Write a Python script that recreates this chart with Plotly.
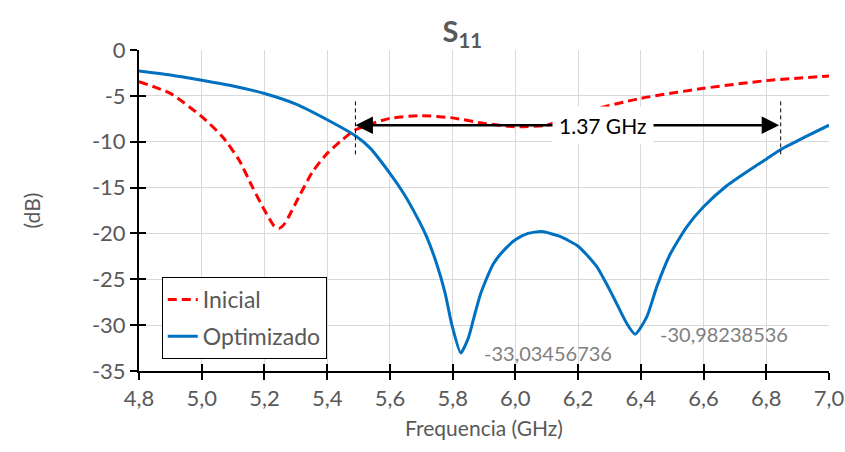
import plotly.graph_objects as go

# Inicial (red dashed)
freq_ini = [4.80, 4.90, 5.00, 5.066, 5.119, 5.161, 5.20, 5.231, 5.246, 5.265, 5.31, 5.353, 5.40, 5.448, 5.49,
            5.60, 5.70, 5.80, 5.90, 6.00, 6.10, 6.16, 6.225, 6.40, 6.60, 6.80, 7.00]
s11_ini = [-3.45, -4.73, -7.27, -9.45, -12.0, -14.9, -17.45, -19.2, -19.45, -18.9, -16.0, -13.3, -11.27, -9.8, -8.7,
           -7.45, -7.16, -7.4, -8.0, -8.36, -8.2, -7.5, -6.7, -5.27, -4.18, -3.34, -2.84]

# Optimizado (blue solid)
freq_opt = [4.80, 4.90, 5.00, 5.10, 5.20, 5.30, 5.40, 5.49, 5.537, 5.60, 5.643, 5.686, 5.717, 5.749, 5.776,
            5.797, 5.826, 5.85, 5.866, 5.89, 5.93, 5.97, 6.00, 6.04, 6.084, 6.14, 6.20, 6.259, 6.312,
            6.355, 6.382, 6.419, 6.451, 6.493, 6.546, 6.60, 6.674, 6.759, 6.80, 6.849, 6.929, 7.00]
s11_opt = [-2.29, -2.73, -3.3, -3.93, -4.75, -5.9, -7.6, -9.35, -10.7, -13.45, -15.6, -18.2, -20.35, -23.3, -26.5,
           -29.9, -33.03, -31.4, -29.4, -26.5, -23.3, -21.6, -20.7, -20.0, -19.8, -20.3, -21.4, -23.6, -26.9,
           -29.8, -30.98, -29.1, -25.8, -22.3, -19.3, -17.1, -14.8, -12.8, -11.9, -10.8, -9.4, -8.2]

min_labels = ["-33,03456736", "-30,98238536"]
min_pos = [(5.826, -33.03), (6.382, -30.98)]

bw_start, bw_end, bw_level = 5.49, 6.846, -8.2
bw_label = "1.37 GHz"
bw_label_x = 6.28

xticks = [4.8, 5.0, 5.2, 5.4, 5.6, 5.8, 6.0, 6.2, 6.4, 6.6, 6.8, 7.0]
xtick_text = ["4,8", "5,0", "5,2", "5,4", "5,6", "5,8", "6,0", "6,2", "6,4", "6,6", "6,8", "7,0"]
yticks = [0, -5, -10, -15, -20, -25, -30, -35]
ytick_text = ["0", "-5", "-10", "-15", "-20", "-25", "-30", "-35"]

GRAY = "#595959"
FONT = "Lato, sans-serif"

fig = go.Figure()
fig.add_trace(go.Scatter(x=freq_ini, y=s11_ini, mode="lines", name="Inicial", legendgroup="a",
                         line=dict(color="#FF0000", width=3, dash="9px,5px", shape="spline", smoothing=0.6)))
fig.add_trace(go.Scatter(x=freq_opt, y=s11_opt, mode="lines", name="Optimizado", legendgroup="b",
                         line=dict(color="#0070C0", width=3, shape="spline", smoothing=0.6)))
# invisible trace for overlay axes (crossing ticks)
fig.add_trace(go.Scatter(x=[4.8], y=[-35], xaxis="x2", yaxis="y2", mode="markers",
                         marker=dict(opacity=0), showlegend=False, hoverinfo="skip"))

fig.update_layout(
    width=845, height=452,
    margin=dict(l=139, r=16, t=50, b=81),
    paper_bgcolor="white", plot_bgcolor="white",
    title=dict(text="<b>S<sub>11</sub></b>", x=0.547, xanchor="center", y=0.93, yanchor="middle",
               font=dict(family=FONT, size=29, color=GRAY)),
    xaxis=dict(range=[4.8, 7.0], tickvals=xticks, ticktext=xtick_text, automargin=False,
               showgrid=True, gridcolor="#d9d9d9", gridwidth=1,
               showline=True, linecolor="black", linewidth=2,
               ticks="outside", ticklen=7, tickwidth=2, tickcolor="black",
               tickfont=dict(family=FONT, size=22, color=GRAY),
               title=dict(text="Frequencia (GHz)", font=dict(family=FONT, size=21, color=GRAY), standoff=11),
               zeroline=False),
    yaxis=dict(range=[-35, 0], tickvals=yticks, ticktext=ytick_text, automargin=False,
               showgrid=True, gridcolor="#d9d9d9", gridwidth=1,
               showline=True, linecolor="black", linewidth=2,
               ticks="outside", ticklen=7, tickwidth=2, tickcolor="black",
               tickfont=dict(family=FONT, size=22, color=GRAY),
               title=dict(text="(dB)", font=dict(family=FONT, size=21, color=GRAY), standoff=46),
               zeroline=False),
    xaxis2=dict(range=[4.8, 7.0], tickvals=xticks, overlaying="x", anchor="y2", side="bottom",
                showticklabels=False, showgrid=False, zeroline=False, showline=False,
                ticks="inside", ticklen=7, tickwidth=2, tickcolor="black"),
    yaxis2=dict(range=[-35, 0], tickvals=yticks, overlaying="y", anchor="x2", side="left",
                showticklabels=False, showgrid=False, zeroline=False, showline=False,
                ticks="inside", ticklen=7, tickwidth=2, tickcolor="black"),
    legend=dict(x=0.033, y=0.293, xanchor="left", yanchor="top",
                bgcolor="white", bordercolor="black", borderwidth=1,
                font=dict(family=FONT, size=23, color=GRAY), tracegroupgap=4),
    showlegend=True,
)

# minimum value labels
for (mx, my), txt in zip(min_pos, min_labels):
    fig.add_annotation(x=mx, y=my, text=txt, showarrow=False, xanchor="left", yanchor="middle",
                       xshift=21 if mx < 6 else 23,
                       font=dict(family=FONT, size=20, color="#808080"))

# bandwidth markers (dashed verticals)
for bx in (bw_start, bw_end):
    fig.add_shape(type="line", x0=bx, x1=bx, y0=bw_level + 2.6, y1=bw_level - 3.2,
                  line=dict(color="black", width=1, dash="4px,3px"))

# double-headed arrow
fig.add_annotation(x=bw_start, y=bw_level, ax=bw_end, ay=bw_level, axref="x", ayref="y",
                   xref="x", yref="y", text="", showarrow=True, arrowside="end+start",
                   arrowhead=2, arrowsize=1.4, arrowwidth=2.5, arrowcolor="black")
fig.add_annotation(x=bw_label_x, y=bw_level, text=bw_label, showarrow=False,
                   bgcolor="white", borderpad=6,
                   font=dict(family=FONT, size=21, color="black"))

fig.write_html("out.html")
